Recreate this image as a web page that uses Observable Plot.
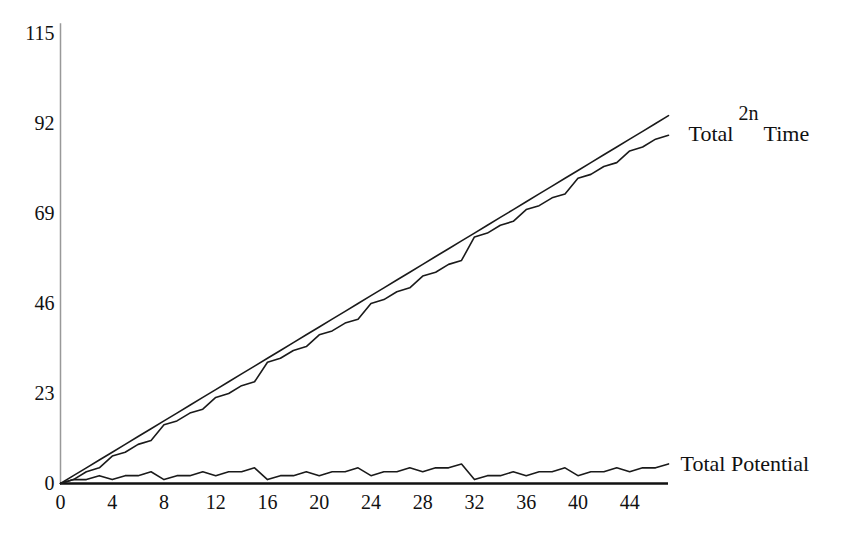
<!DOCTYPE html>
<html><head><meta charset="utf-8">
<script src="https://cdn.jsdelivr.net/npm/d3@7"></script>
<script src="https://cdn.jsdelivr.net/npm/@observablehq/plot@0.6"></script>
<style>body{margin:0;background:#fff} svg{display:block}</style>
</head><body><div id="chart"></div>
<script>
const n = [0,1,2,3,4,5,6,7,8,9,10,11,12,13,14,15,16,17,18,19,20,21,22,23,24,25,26,27,28,29,30,31,32,33,34,35,36,37,38,39,40,41,42,43,44,45,46,47];
const totalTime = [0,1,3,4,7,8,10,11,15,16,18,19,22,23,25,26,31,32,34,35,38,39,41,42,46,47,49,50,53,54,56,57,63,64,66,67,70,71,73,74,78,79,81,82,85,86,88,89];
const totalPotential = [0,1,1,2,1,2,2,3,1,2,2,3,2,3,3,4,1,2,2,3,2,3,3,4,2,3,3,4,3,4,4,5,1,2,2,3,2,3,3,4,2,3,3,4,3,4,4,5];
const twoN = [0,2,4,6,8,10,12,14,16,18,20,22,24,26,28,30,32,34,36,38,40,42,44,46,48,50,52,54,56,58,60,62,64,66,68,70,72,74,76,78,80,82,84,86,88,90,92,94];
const xTicks = [0,4,8,12,16,20,24,28,32,36,40,44];
const yTicks = [0,23,46,69,92,115];

const rows = n.map((v,i)=>({n:v, time:totalTime[i], pot:totalPotential[i], two:twoN[i]}));
const last = [rows[rows.length-1]];

const plot = Plot.plot({
  width:847, height:540,
  marginLeft:60, marginRight:179, marginTop:33, marginBottom:57,
  x:{domain:[0,47], ticks:xTicks, tickSize:0, tickPadding:11, label:null, tickFormat:d=>String(d)},
  y:{domain:[0,115], ticks:yTicks, tickSize:0, tickPadding:6, label:null, tickFormat:d=>String(d)},
  style:{fontFamily:"'Liberation Serif', 'DejaVu Serif', serif", fontSize:"20px", color:"#111", background:"#fff", overflow:"visible"},
  marks:[
    Plot.ruleX([0],{y1:0, y2:117.5, stroke:"#999", strokeWidth:1.5}),
    Plot.ruleY([0],{x1:0, x2:47, stroke:"#111", strokeWidth:2.5}),
    Plot.line(rows,{x:"n", y:"two", stroke:"#1a1a1a", strokeWidth:1.6}),
    Plot.line(rows,{x:"n", y:"time", stroke:"#1a1a1a", strokeWidth:1.6}),
    Plot.line(rows,{x:"n", y:"pot", stroke:"#1a1a1a", strokeWidth:1.6}),
    Plot.text(last,{x:"n", y:"two", text:()=>"2n", dx:70, dy:-2, textAnchor:"start", fontSize:20, fill:"#111"}),
    Plot.text(last,{x:"n", y:"time", text:()=>"Total", dx:20, dy:-1, textAnchor:"start", fontSize:22, fill:"#111"}),
    Plot.text(last,{x:"n", y:"time", text:()=>"Time", dx:95, dy:-1, textAnchor:"start", fontSize:22, fill:"#111"}),
    Plot.text(last,{x:"n", y:"pot", text:()=>"Total Potential", dx:12, dy:0, textAnchor:"start", fontSize:22, fill:"#111"})
  ]
});
document.getElementById("chart").appendChild(plot);
</script>
</body></html>
